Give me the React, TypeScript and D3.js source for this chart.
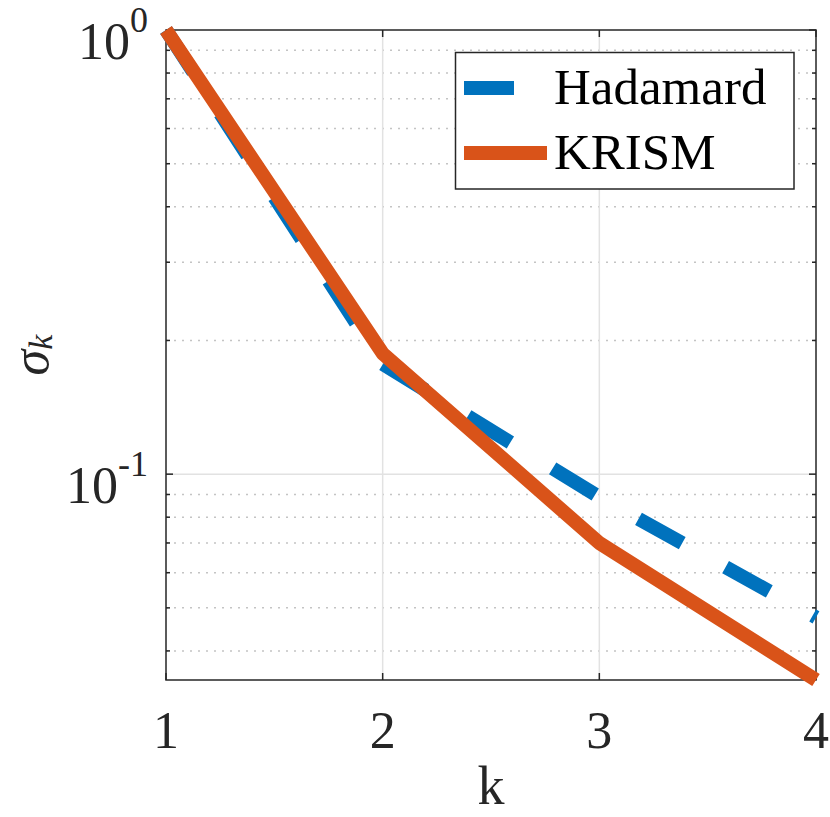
import * as d3 from "d3";
import { useEffect, useRef } from "react";

const kValues = [1, 2, 3, 4];
const hadamard = [1.0, 0.177, 0.0888, 0.0476];
const krism = [1.0, 0.187, 0.07, 0.0344];
const seriesNames = ["Hadamard", "KRISM"];
const seriesColors = ["#0072BD", "#D95319"];
const xTickLabels = ["1", "2", "3", "4"];
const yMajorTicks = [1, 0.1];
const yTickExponents = ["0", "-1"];

const W = 830;
const H = 817;
const FONT = "Liberation Serif, Tinos, Times New Roman, DejaVu Serif";

const App = () => {
  const ref = useRef<SVGSVGElement | null>(null);

  useEffect(() => {
    if (!ref.current) return;
    const svg = d3.select(ref.current);
    svg.selectAll("*").remove();

    const margin = { top: 30, right: 14, bottom: 137, left: 166 };
    const allVals = [...hadamard, ...krism];

    const x = d3
      .scaleLinear()
      .domain([kValues[0], kValues[kValues.length - 1]])
      .range([margin.left, W - margin.right]);

    const y = d3
      .scaleLog()
      .domain([d3.min(allVals)!, d3.max(allVals)!])
      .range([H - margin.bottom, margin.top]);

    const [x0, x1] = x.range();
    const [y0, y1] = y.range(); // y0 bottom, y1 top

    svg.append("rect").attr("width", W).attr("height", H).attr("fill", "#fff");

    // minor grid (dotted) and ticks
    const minorTicks: number[] = [];
    for (const dec of [0.01, 0.1]) {
      for (let m = 2; m <= 9; m++) {
        const v = m * dec;
        if (v >= y.domain()[0] && v < 1 && !yMajorTicks.includes(v)) minorTicks.push(v);
      }
    }

    const grid = svg.append("g");
    grid
      .selectAll("line.minor")
      .data(minorTicks)
      .join("line")
      .attr("x1", x0)
      .attr("x2", x1)
      .attr("y1", (d) => y(d))
      .attr("y2", (d) => y(d))
      .attr("stroke", "#c4c4c4")
      .attr("stroke-width", 1.5)
      .attr("stroke-dasharray", "2,6");

    grid
      .selectAll("line.ymaj")
      .data(yMajorTicks.filter((v) => y(v) > y1 + 1 && y(v) < y0 - 1))
      .join("line")
      .attr("x1", x0)
      .attr("x2", x1)
      .attr("y1", (d) => y(d))
      .attr("y2", (d) => y(d))
      .attr("stroke", "#e2e2e2")
      .attr("stroke-width", 1.5);

    grid
      .selectAll("line.xmaj")
      .data(kValues.slice(1, -1))
      .join("line")
      .attr("x1", (d) => x(d))
      .attr("x2", (d) => x(d))
      .attr("y1", y0)
      .attr("y2", y1)
      .attr("stroke", "#e2e2e2")
      .attr("stroke-width", 1.5);

    // ticks (inward, both sides)
    const ticks = svg.append("g").attr("stroke", "#262626").attr("stroke-width", 1.5);
    kValues.forEach((k) => {
      ticks.append("line").attr("x1", x(k)).attr("x2", x(k)).attr("y1", y0).attr("y2", y0 - 7);
      ticks.append("line").attr("x1", x(k)).attr("x2", x(k)).attr("y1", y1).attr("y2", y1 + 7);
    });
    yMajorTicks.forEach((v) => {
      ticks.append("line").attr("x1", x0).attr("x2", x0 + 7).attr("y1", y(v)).attr("y2", y(v));
      ticks.append("line").attr("x1", x1).attr("x2", x1 - 7).attr("y1", y(v)).attr("y2", y(v));
    });
    minorTicks.forEach((v) => {
      ticks.append("line").attr("x1", x0).attr("x2", x0 + 4).attr("y1", y(v)).attr("y2", y(v));
      ticks.append("line").attr("x1", x1).attr("x2", x1 - 4).attr("y1", y(v)).attr("y2", y(v));
    });

    // axes box
    svg
      .append("rect")
      .attr("x", x0)
      .attr("y", y1)
      .attr("width", x1 - x0)
      .attr("height", y0 - y1)
      .attr("fill", "none")
      .attr("stroke", "#262626")
      .attr("stroke-width", 1.5);

    // lines
    const line = d3
      .line<number>()
      .x((_, i) => x(kValues[i]))
      .y((d) => y(d));

    svg
      .append("path")
      .attr("d", line(hadamard))
      .attr("fill", "none")
      .attr("stroke", seriesColors[0])
      .attr("stroke-width", 14)
      .attr("stroke-dasharray", "50,49.6");

    svg
      .append("path")
      .attr("d", line(krism))
      .attr("fill", "none")
      .attr("stroke", seriesColors[1])
      .attr("stroke-width", 14)
      .attr("stroke-linejoin", "round");

    const textStyle = (sel: d3.Selection<SVGTextElement, any, any, any>, size: number) =>
      sel.style("font-family", FONT).style("font-size", `${size}px`);

    // x tick labels
    svg
      .append("g")
      .selectAll("text")
      .data(kValues)
      .join("text")
      .attr("x", (d) => x(d))
      .attr("y", y0 + 68)
      .attr("text-anchor", "middle")
      .style("font-family", FONT)
      .style("font-size", "52px")
      .attr("fill", "#262626")
      .text((_, i) => xTickLabels[i]);

    // y tick labels
    yMajorTicks.forEach((v, i) => {
      const t = svg
        .append("text")
        .attr("x", 148)
        .attr("y", y(v) + 29)
        .attr("text-anchor", "end")
        .attr("fill", "#262626");
      textStyle(t, 52);
      t.append("tspan").text("10");
      t.append("tspan").attr("dy", -27).style("font-size", "36px").text(yTickExponents[i]);
    });

    // axis labels
    const xl = svg
      .append("text")
      .attr("x", (x0 + x1) / 2)
      .attr("y", 804)
      .attr("text-anchor", "middle")
      .attr("fill", "#262626")
      .text("k");
    textStyle(xl, 54);

    const yl = svg
      .append("text")
      .attr("transform", `translate(48,355) rotate(-90)`)
      .attr("text-anchor", "middle")
      .style("font-style", "italic")
      .attr("fill", "#262626");
    textStyle(yl, 52);
    yl.append("tspan").text("σ");
    yl.append("tspan").attr("dy", 4).style("font-size", "34px").text("k");

    // legend
    const lg = svg.append("g");
    lg.append("rect")
      .attr("x", 455.5)
      .attr("y", 52.5)
      .attr("width", 338.5)
      .attr("height", 136.5)
      .attr("fill", "#fff")
      .attr("stroke", "#262626")
      .attr("stroke-width", 1.5);
    const legendRows = [
      { y: 88, x2: 514 },
      { y: 153, x2: 547 },
    ];
    legendRows.forEach((r, i) => {
      lg.append("line")
        .attr("x1", 464)
        .attr("x2", r.x2)
        .attr("y1", r.y)
        .attr("y2", r.y)
        .attr("stroke", seriesColors[i])
        .attr("stroke-width", 14);
      const lt = lg
        .append("text")
        .attr("x", 554)
        .attr("y", r.y + 16)
        .attr("fill", "#000")
        .text(seriesNames[i]);
      textStyle(lt, 51);
    });
  }, []);

  return (
    <div style={{ position: "absolute", left: 0, top: 0 }}>
      <svg ref={ref} width={W} height={H} style={{ display: "block" }} />
    </div>
  );
};

export default App;
